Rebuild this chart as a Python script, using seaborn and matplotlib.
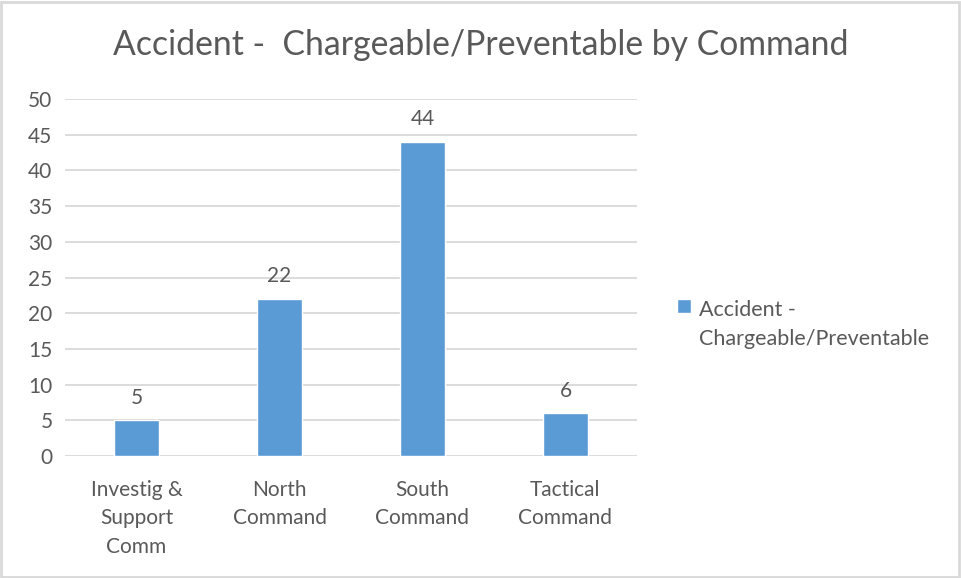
import matplotlib
matplotlib.use("Agg")
import matplotlib.pyplot as plt
import seaborn as sns
import pandas as pd
from matplotlib.patches import Rectangle

categories = ["Investig &\nSupport\nComm", "North\nCommand", "South\nCommand", "Tactical\nCommand"]
values = [5, 22, 44, 6]
series_name = "Accident -\nChargeable/Preventable"
title = "Accident -  Chargeable/Preventable by Command"
yticks = [0, 5, 10, 15, 20, 25, 30, 35, 40, 45, 50]

sns.set_theme(style="white")
plt.rcParams["font.family"] = ["Lato", "DejaVu Sans"]

BAR = "#5B9BD5"
TXT = "#595959"
GRID = "#D9D9D9"

df = pd.DataFrame({"cat": categories, "val": values})

fig = plt.figure(figsize=(9.62, 5.78), dpi=100)
ax = fig.add_axes([65/962, 1 - 456/578, (637-65)/962, (456-99)/578])

sns.barplot(data=df, x="cat", y="val", color=BAR, width=0.315, ax=ax,
            saturation=1, label=series_name)

ax.set_ylim(0, 50)
ax.set_xlim(-0.5, 3.5)
ax.set_yticks(yticks)
ax.set_xticks(range(len(categories)), categories, linespacing=1.53)
ax.yaxis.grid(True, color=GRID, linewidth=1.3)
ax.set_axisbelow(True)
for s in ax.spines.values():
    s.set_visible(False)
ax.set_xlabel("")
ax.set_ylabel("")
ax.tick_params(axis="y", colors=TXT, labelsize=15, length=0, pad=9)
ax.tick_params(axis="x", colors=TXT, labelsize=15, length=0, pad=17)

for c in ax.containers:
    ax.bar_label(c, labels=[str(v) for v in values], padding=9, color=TXT, fontsize=15)

fig.text(481/962, 1 - 45/578, title, ha="center", va="center", fontsize=24.3, color=TXT)

leg = ax.legend(loc="center left", bbox_to_anchor=(658/962, 1 - 324.5/578),
                bbox_transform=fig.transFigure, frameon=False, fontsize=15.5,
                handlelength=0.62, handleheight=0.62, handletextpad=0.4, labelcolor=TXT)
for t in leg.get_texts():
    t.set_linespacing(1.58)
h = leg.legend_handles[0]
h.set_y(h.get_y() + 13.5)

fig.patches.append(Rectangle((1/962, 1/578), 958/962, 575/578, transform=fig.transFigure,
                             fill=False, edgecolor=GRID, linewidth=2))

fig.savefig("out.png", dpi=100)
